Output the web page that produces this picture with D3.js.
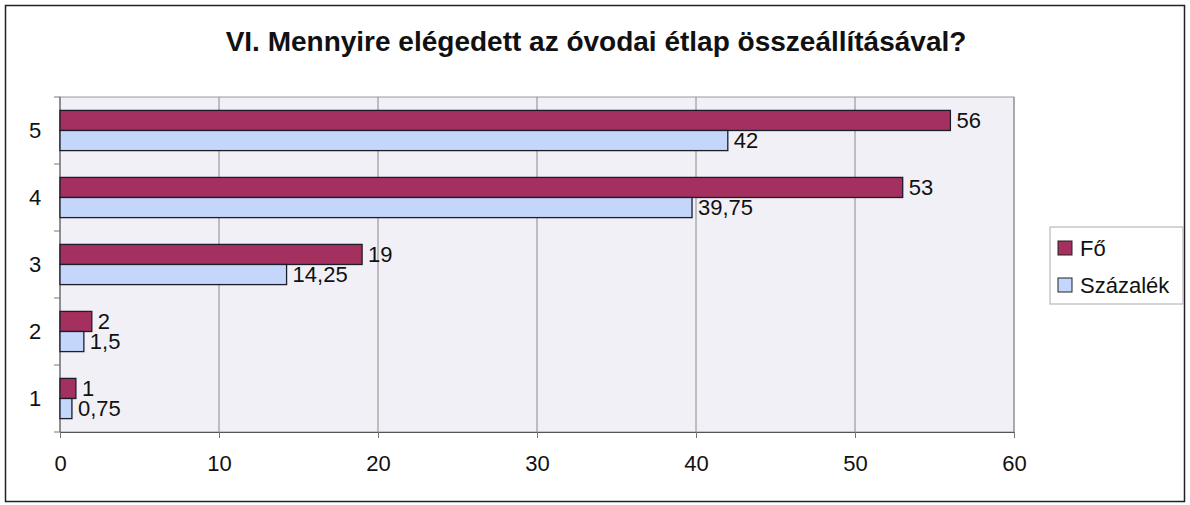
<!DOCTYPE html>
<html>
<head>
<meta charset="utf-8">
<script src="https://cdn.jsdelivr.net/npm/d3@7"></script>
<style>
  body { margin: 0; background: #fff; }
  text { font-family: "Liberation Sans", Arial, sans-serif; fill: #111; }
</style>
</head>
<body>
<div id="chart"></div>
<script>
var categories = ["5", "4", "3", "2", "1"];
var foValues = [56, 53, 19, 2, 1];
var szazalekValues = [42, 39.75, 14.25, 1.5, 0.75];
var seriesNames = ["Fő", "Százalék"];
var xTicks = [0, 10, 20, 30, 40, 50, 60];

var width = 1190, height = 505;
var plot = { left: 60, top: 97, right: 1014, bottom: 432 };
var colors = ["#A3305F", "#C4D6FA"];

var svg = d3.select('#chart')
  .append('svg')
  .attr('width', width)
  .attr('height', height);

// outer frame
svg.append('rect')
  .attr('x', 5.5).attr('y', 5.5)
  .attr('width', 1179).attr('height', 496)
  .attr('fill', '#fff')
  .attr('stroke', '#222')
  .attr('stroke-width', 1.5);

svg.append('text')
  .attr('x', 596).attr('y', 51)
  .attr('text-anchor', 'middle')
  .style('font-size', '28px')
  .style('font-weight', 'bold')
  .text('VI. Mennyire elégedett az óvodai étlap összeállításával?');

var x = d3.scaleLinear().domain([0, 60]).range([plot.left, plot.right]);
var y = d3.scaleBand().domain(categories).range([plot.top, plot.bottom])
  .paddingInner(0.4).paddingOuter(0.2);
var yTick = d3.scaleBand().domain(categories).range([plot.top, plot.bottom]);
var sub = d3.scaleBand().domain(seriesNames).range([0, y.bandwidth()]);

// plot background
svg.append('rect')
  .attr('x', plot.left).attr('y', plot.top)
  .attr('width', plot.right - plot.left).attr('height', plot.bottom - plot.top)
  .attr('fill', '#F1F0F7')
  .attr('stroke', '#9a9a9a')
  .attr('stroke-width', 1);

// gridlines
svg.append('g')
  .selectAll('line')
  .data(xTicks.slice(1))
  .enter()
  .append('line')
  .attr('x1', (d) => x(d)).attr('x2', (d) => x(d))
  .attr('y1', plot.top).attr('y2', plot.bottom)
  .attr('stroke', '#8a8a8a')
  .attr('stroke-width', 1);

// x axis
var xAxis = svg.append('g')
  .attr('transform', 'translate(0,' + plot.bottom + ')')
  .call(d3.axisBottom(x).tickValues(xTicks).tickSize(6).tickPadding(17));
xAxis.select('.domain').attr('stroke', '#555');
xAxis.selectAll('.tick line').attr('stroke', '#777');
xAxis.selectAll('text').style('font-size', '22px').attr('fill', '#111');

// y axis: ticks at category boundaries, labels at centres
var yg = svg.append('g');
yg.append('line')
  .attr('x1', plot.left).attr('x2', plot.left)
  .attr('y1', plot.top).attr('y2', plot.bottom)
  .attr('stroke', '#555');
yg.selectAll('.bound')
  .data(categories.concat(['end']))
  .enter()
  .append('line')
  .attr('x1', plot.left - 6).attr('x2', plot.left)
  .attr('y1', (d, i) => plot.top + i * yTick.step())
  .attr('y2', (d, i) => plot.top + i * yTick.step())
  .attr('stroke', '#777');
yg.selectAll('text')
  .data(categories)
  .enter()
  .append('text')
  .attr('x', 35)
  .attr('y', (d) => yTick(d) + yTick.bandwidth() / 2)
  .attr('dy', '0.36em')
  .attr('text-anchor', 'middle')
  .style('font-size', '22px')
  .text((d) => d);

// bars
var rows = categories.map(function (c, i) {
  return [
    { cat: c, name: seriesNames[0], value: foValues[i] },
    { cat: c, name: seriesNames[1], value: szazalekValues[i] }
  ];
});
var groups = svg.selectAll('.grp')
  .data(rows)
  .enter()
  .append('g')
  .attr('transform', (d) => 'translate(0,' + y(d[0].cat) + ')');

groups.selectAll('rect')
  .data((d) => d)
  .enter()
  .append('rect')
  .attr('x', x(0))
  .attr('y', (d) => sub(d.name))
  .attr('width', (d) => x(d.value) - x(0))
  .attr('height', sub.bandwidth())
  .attr('fill', (d, i) => colors[i])
  .attr('stroke', '#1c1c2a')
  .attr('stroke-width', 1.3);

groups.selectAll('.lbl')
  .data((d) => d)
  .enter()
  .append('text')
  .attr('x', (d) => x(d.value) + 6)
  .attr('y', (d) => sub(d.name) + sub.bandwidth() / 2)
  .attr('dy', '0.36em')
  .style('font-size', '22px')
  .text((d) => String(d.value).replace('.', ','));

// legend
var legend = svg.append('g').attr('transform', 'translate(1050,227)');
legend.append('rect')
  .attr('width', 133).attr('height', 77)
  .attr('fill', '#fff')
  .attr('stroke', '#aaa');
var items = legend.selectAll('.item')
  .data(seriesNames)
  .enter()
  .append('g')
  .attr('transform', (d, i) => 'translate(8,' + (21 + i * 37) + ')');
items.append('rect')
  .attr('x', 0).attr('y', -7)
  .attr('width', 14).attr('height', 14)
  .attr('fill', (d, i) => colors[i])
  .attr('stroke', '#222');
items.append('text')
  .attr('x', 22)
  .attr('dy', '0.36em')
  .style('font-size', '22px')
  .text((d) => d);
</script>
</body>
</html>
